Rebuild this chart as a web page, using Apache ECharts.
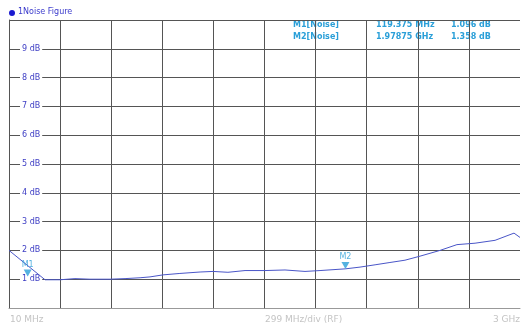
<!DOCTYPE html>
<html>
<head>
<meta charset="utf-8">
<style>
  html, body { margin: 0; padding: 0; background: #fff; }
  #chart { width: 522px; height: 328px; }
</style>
<script src="https://cdn.jsdelivr.net/npm/echarts@6/dist/echarts.min.js"></script>
</head>
<body>
<div id="chart"></div>
<script>
// Sweep settings (MHz)
const startFreq = 10;
const stopFreq = 3000;
const freqPerDiv = 299;

// Noise figure trace: frequency (MHz) and value (dB)
const traceFreq = [10, 221, 308, 396, 484, 601, 689, 777, 835, 911, 1010, 1128, 1204, 1291, 1391, 1508, 1625, 1742, 1830, 1979, 2064, 2152, 2239, 2327, 2415, 2532, 2631, 2737, 2854, 2965, 3000];
const traceDb   = [2.0, 0.98, 0.98, 1.02, 1.0, 1.0, 1.02, 1.05, 1.08, 1.15, 1.2, 1.25, 1.27, 1.24, 1.3, 1.3, 1.32, 1.27, 1.3, 1.36, 1.42, 1.5, 1.58, 1.66, 1.8, 2.0, 2.2, 2.25, 2.35, 2.6, 2.45];

// Markers
const markerNames = ['M1', 'M2'];
const markerFreqMHz = [119.375, 1978.75];
const markerFreqText = ['119.375 MHz', '1.97875 GHz'];
const markerDb = [1.096, 1.358];

// Y axis tick labels (dB)
const yTicks = [0, 1, 2, 3, 4, 5, 6, 7, 8, 9, 10];

// Horizontal axis runs in divisions from the start frequency
const toDiv = f => (f - startFreq) / freqPerDiv;
const numDivs = toDiv(stopFreq);

const chart = echarts.init(document.getElementById('chart'), null, { renderer: 'canvas' });

const FONT = 'DejaVu Sans';
const MARKER_BLUE = '#2a9fd8';
const GRID_COLOR = '#555';

const markerRows = [];
markerNames.forEach((name, i) => {
  const y = 26 + i * 12;
  markerRows.push(
    { type: 'text', left: 293, top: y - 5, style: { text: name + '[Noise]', fill: MARKER_BLUE, font: 'bold 8px "' + FONT + '"' } },
    { type: 'text', left: 376, top: y - 5, style: { text: markerFreqText[i], fill: MARKER_BLUE, font: 'bold 8px "' + FONT + '"' } },
    { type: 'text', left: 451, top: y - 5, style: { text: markerDb[i].toFixed(3) + ' dB', fill: MARKER_BLUE, font: 'bold 8px "' + FONT + '"' } }
  );
});

chart.setOption({
  animation: false,
  backgroundColor: '#fff',
  grid: { left: 9, right: 2, top: 20, bottom: 20, containLabel: false },
  xAxis: {
    type: 'value',
    min: 0,
    max: numDivs,
    interval: 1,
    axisLine: { show: true, lineStyle: { color: '#999', width: 1 } },
    axisTick: { show: false },
    axisLabel: { show: false },
    splitLine: { show: true, showMaxLine: false, lineStyle: { color: GRID_COLOR, width: 1 } }
  },
  yAxis: {
    type: 'value',
    min: yTicks[0],
    max: yTicks[yTicks.length - 1],
    interval: 1,
    axisLine: { show: true, lineStyle: { color: GRID_COLOR, width: 1 } },
    axisTick: { show: false },
    splitLine: { show: true, lineStyle: { color: GRID_COLOR, width: 1 } },
    axisLabel: {
      inside: true,
      margin: 11,
      color: '#3d3dc4',
      fontFamily: FONT,
      fontSize: 8,
      backgroundColor: '#fff',
      padding: [0, 2, 0, 2],
      formatter: v => (v === yTicks[0] || v === yTicks[yTicks.length - 1]) ? '' : v + ' dB'
    }
  },
  graphic: [
    { type: 'circle', shape: { cx: 12, cy: 13, r: 3 }, style: { fill: '#1a1ad0' } },
    { type: 'text', left: 18, top: 8, style: { text: '1Noise Figure', fill: '#3a3acc', font: '8px "' + FONT + '"' } },
    ...markerRows,
    { type: 'text', left: 10, top: 315, style: { text: '10 MHz', fill: '#c4c4c4', font: '9px "' + FONT + '"' } },
    { type: 'text', left: 265, top: 315, style: { text: freqPerDiv + ' MHz/div (RF)', fill: '#c4c4c4', font: '9px "' + FONT + '"', textAlign: 'center' } },
    { type: 'text', right: 2, top: 315, style: { text: '3 GHz', fill: '#c4c4c4', font: '9px "' + FONT + '"' } }
  ],
  series: [
    {
      type: 'line',
      data: traceFreq.map((f, i) => [toDiv(f), traceDb[i]]),
      showSymbol: false,
      lineStyle: { color: '#4a56c8', width: 1 },
      silent: true,
      z: 3
    },
    {
      type: 'scatter',
      data: markerFreqMHz.map((f, i) => ({ value: [toDiv(f), markerDb[i]], name: markerNames[i] })),
      symbol: 'triangle',
      symbolRotate: 180,
      symbolSize: [8, 7],
      symbolOffset: [0, '-50%'],
      itemStyle: { color: MARKER_BLUE },
      label: {
        show: true,
        position: 'top',
        distance: 1,
        formatter: p => p.name,
        color: MARKER_BLUE,
        fontFamily: FONT,
        fontSize: 8
      },
      silent: true,
      z: 4
    }
  ]
});
</script>
</body>
</html>
